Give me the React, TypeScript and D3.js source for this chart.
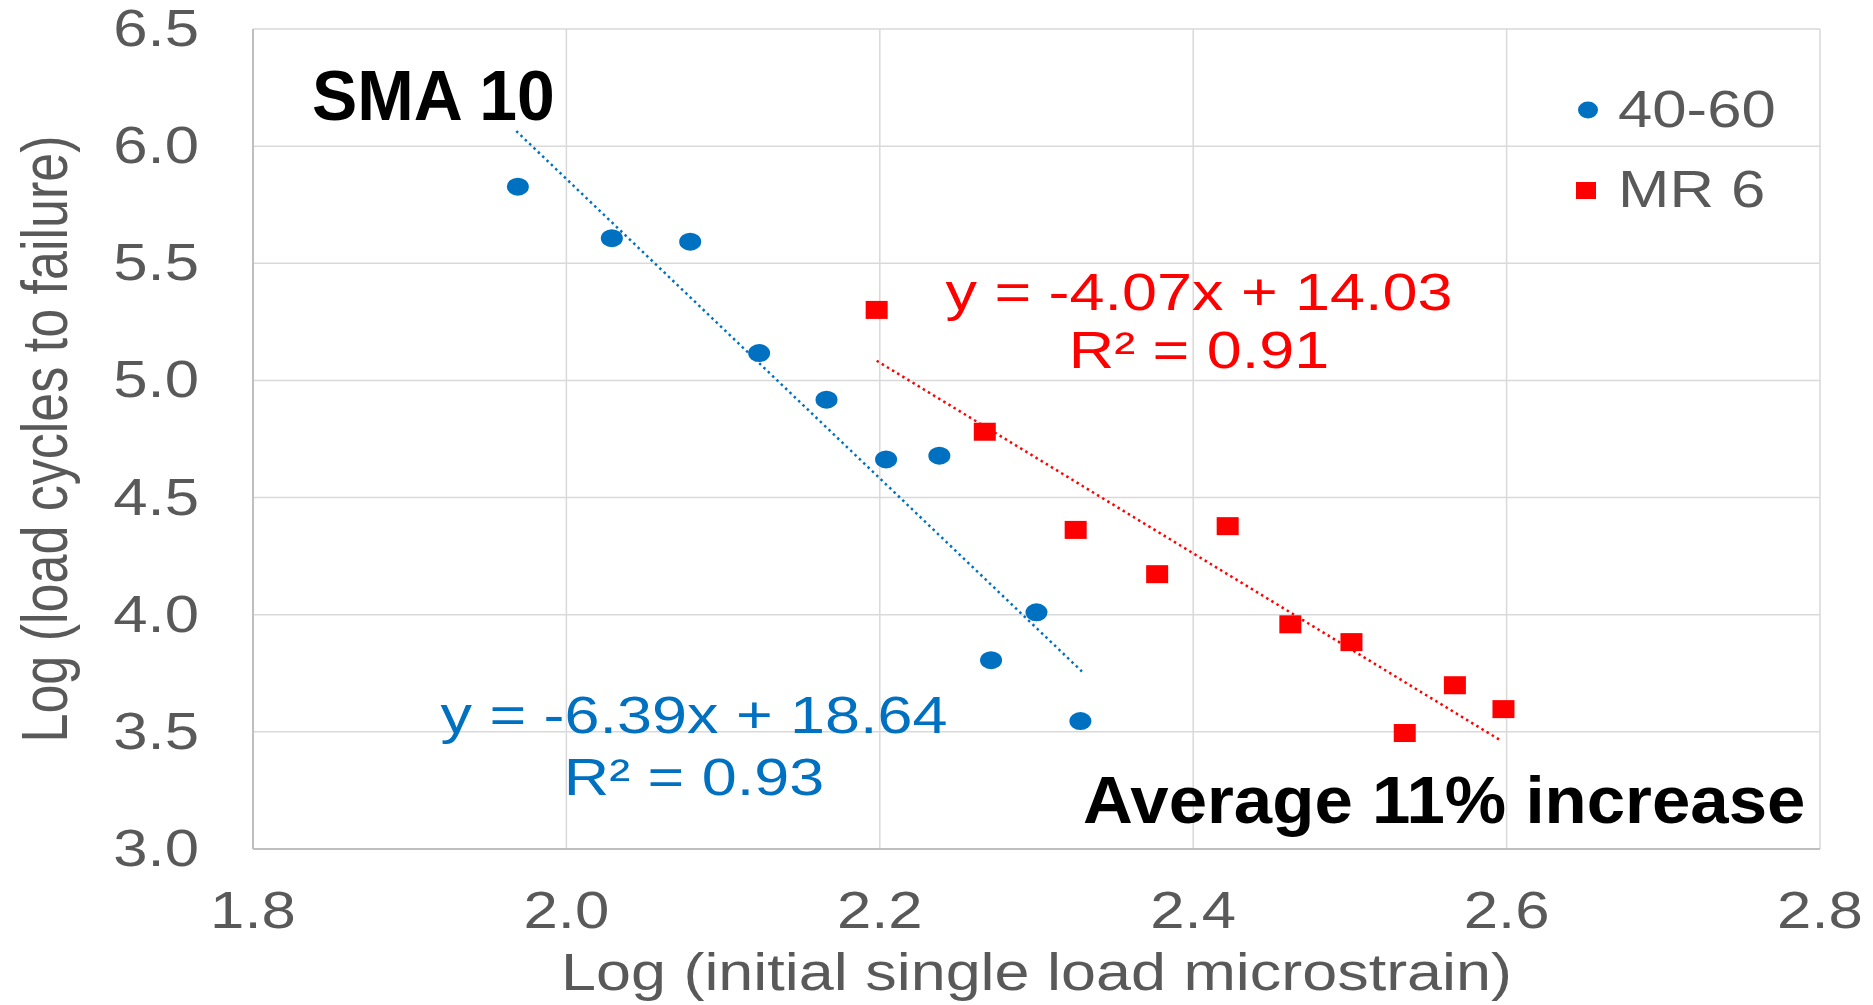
import { useEffect, useRef } from 'react';
import * as d3 from 'd3';

// 40-60 series (blue circles)
const blueX = [1.969, 2.029, 2.079, 2.123, 2.166, 2.204, 2.238, 2.300, 2.271, 2.328];
const blueY = [5.827, 5.607, 5.592, 5.117, 4.918, 4.663, 4.679, 4.010, 3.806, 3.546];

// MR 6 series (red squares)
const redX = [2.198, 2.267, 2.325, 2.377, 2.422, 2.462, 2.501, 2.535, 2.567, 2.598];
const redY = [5.301, 4.781, 4.362, 4.173, 4.378, 3.959, 3.883, 3.495, 3.699, 3.597];

// trendlines: slope, intercept, x range
const blueFit = { m: -6.39, b: 18.64, from: 1.968, to: 2.329 };
const redFit = { m: -4.07, b: 14.03, from: 2.198, to: 2.596 };

const xTicks = [1.8, 2.0, 2.2, 2.4, 2.6, 2.8];
const yTicks = [3.0, 3.5, 4.0, 4.5, 5.0, 5.5, 6.0, 6.5];
const seriesNames = ['40-60', 'MR 6'];

const BLUE = '#0070C0';
const RED = '#FF0000';
const GRAY = '#595959';
const SX = 1.21; // the source image is stretched horizontally

const App = () => {
  const svgRef = useRef(null);

  useEffect(() => {
    const svg = d3.select(svgRef.current);
    svg.selectAll('*').remove();

    const left = 253, right = 1820, top = 29, bottom = 849;
    const x = d3.scaleLinear().domain([1.8, 2.8]).range([left, right]);
    const y = d3.scaleLinear().domain([3.0, 6.5]).range([bottom, top]);

    const font = 'Liberation Sans, Arial, sans-serif';

    const txt = (px, py, s, opts = {}) => {
      return svg.append('text')
        .attr('transform', `translate(${px},${py}) scale(${opts.sx ?? SX},1)${opts.rot ? ' rotate(-90)' : ''}`)
        .attr('font-family', font)
        .attr('font-size', opts.size ?? 51)
        .attr('font-weight', opts.bold ? 'bold' : 'normal')
        .attr('fill', opts.fill ?? GRAY)
        .attr('text-anchor', opts.anchor ?? 'middle')
        .text(s);
    };

    // grid
    svg.append('g').selectAll('line').data(yTicks).enter().append('line')
      .attr('x1', left).attr('x2', right)
      .attr('y1', d => y(d)).attr('y2', d => y(d))
      .attr('stroke', '#D9D9D9').attr('stroke-width', 1.5);
    svg.append('g').selectAll('line').data(xTicks).enter().append('line')
      .attr('x1', d => x(d)).attr('x2', d => x(d))
      .attr('y1', top).attr('y2', bottom)
      .attr('stroke', '#D9D9D9').attr('stroke-width', 1.5);

    // axis lines
    svg.append('line').attr('x1', left).attr('x2', right).attr('y1', bottom).attr('y2', bottom)
      .attr('stroke', '#BFBFBF').attr('stroke-width', 2);
    svg.append('line').attr('x1', left).attr('x2', left).attr('y1', top).attr('y2', bottom)
      .attr('stroke', '#BFBFBF').attr('stroke-width', 2);

    // tick labels
    xTicks.forEach(t => txt(x(t), 928, d3.format('.1f')(t)));
    yTicks.forEach(t => txt(199, y(t) + 17, d3.format('.1f')(t), { anchor: 'end' }));

    // axis titles
    txt((left + right) / 2, 990, 'Log (initial single load microstrain)', { size: 52 });
    txt(67, (top + bottom) / 2, 'Log (load cycles to failure)', { rot: true, sx: 1.25, size: 52 });

    // trendlines
    const line = d3.line().x(d => x(d[0])).y(d => y(d[1]));
    [[blueFit, BLUE], [redFit, RED]].forEach(([f, c]) => {
      svg.append('path')
        .attr('d', line([[f.from, f.m * f.from + f.b], [f.to, f.m * f.to + f.b]]))
        .attr('fill', 'none')
        .attr('stroke', c)
        .attr('stroke-width', 2.5)
        .attr('stroke-dasharray', '2.5,3.5');
    });

    // points
    svg.append('g').selectAll('ellipse').data(blueX).enter().append('ellipse')
      .attr('cx', d => x(d)).attr('cy', (d, i) => y(blueY[i]))
      .attr('rx', 11).attr('ry', 9)
      .attr('fill', BLUE);
    svg.append('g').selectAll('rect').data(redX).enter().append('rect')
      .attr('x', d => x(d) - 11).attr('y', (d, i) => y(redY[i]) - 9)
      .attr('width', 22).attr('height', 18)
      .attr('fill', RED);

    // legend
    svg.append('ellipse').attr('cx', 1588).attr('cy', 110).attr('rx', 10).attr('ry', 8.5).attr('fill', BLUE);
    svg.append('rect').attr('x', 1576).attr('y', 182).attr('width', 20).attr('height', 17).attr('fill', RED);
    txt(1618, 127, seriesNames[0], { anchor: 'start' });
    txt(1618, 207, seriesNames[1], { anchor: 'start' });

    // equations
    txt(1199, 310, `y = ${redFit.m}x + ${redFit.b}`, { fill: RED, size: 52 });
    txt(1199, 368, 'R² = 0.91', { fill: RED, size: 52 });
    txt(694, 733, `y = ${blueFit.m}x + ${blueFit.b}`, { fill: BLUE, size: 52 });
    txt(694, 795, 'R² = 0.93', { fill: BLUE, size: 52 });

    // annotations
    txt(312, 120, 'SMA 10', { anchor: 'start', bold: true, size: 70, sx: 0.97, fill: '#000' });
    txt(1083, 823, 'Average 11% increase', { anchor: 'start', bold: true, size: 67, sx: 1.03, fill: '#000' });
  }, []);

  return (
    <svg ref={svgRef} width={1873} height={1005}
      style={{ position: 'absolute', left: 0, top: 0, background: '#fff' }} />
  );
};

export default App;
